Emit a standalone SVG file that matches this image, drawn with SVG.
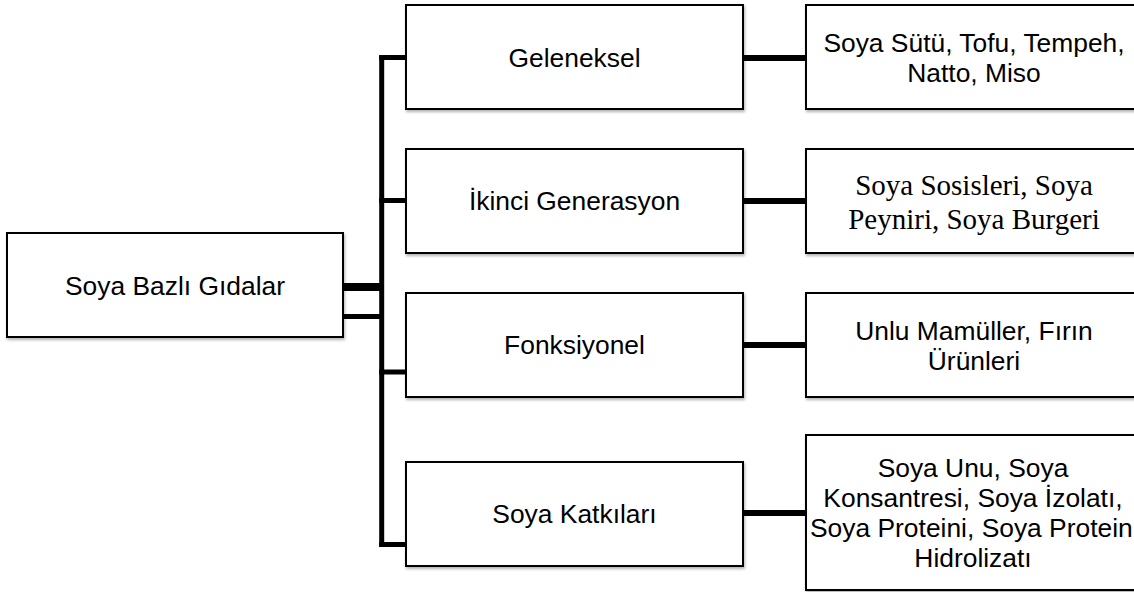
<svg xmlns="http://www.w3.org/2000/svg" width="1134" height="592" viewBox="0 0 1134 592">
  <defs>
    <filter id="shadow" x="-5%" y="-5%" width="110%" height="120%">
      <feDropShadow dx="1" dy="2" stdDeviation="1.5" flood-color="#000" flood-opacity="0.3"/>
    </filter>
  </defs>
  <style>
    .box { fill: #ffffff; stroke: #000000; stroke-width: 2; filter: url(#shadow); }
    .t { font-family: "Liberation Sans", Arial, sans-serif; font-size: 26.4px; fill: #000; text-anchor: middle; }
    .ts { font-family: "Liberation Serif", "Times New Roman", serif; font-size: 29px; fill: #000; text-anchor: middle; }
    .ln { stroke: #000; fill: none; stroke-linecap: butt; }
  </style>
  <rect width="1134" height="592" fill="#ffffff"/>

  <g id="connectors">
    <line class="ln" x1="343" y1="287" x2="384" y2="287" stroke-width="8"/>
    <line class="ln" x1="343" y1="316.5" x2="384" y2="316.5" stroke-width="5"/>
    <line class="ln" x1="381.7" y1="55" x2="381.7" y2="547" stroke-width="5"/>
    <line class="ln" x1="379.2" y1="57.5" x2="406" y2="57.5" stroke-width="5"/>
    <line class="ln" x1="379.2" y1="200.5" x2="406" y2="200.5" stroke-width="5"/>
    <line class="ln" x1="379.2" y1="372" x2="406" y2="372" stroke-width="5"/>
    <line class="ln" x1="379.2" y1="544.5" x2="406" y2="544.5" stroke-width="5"/>
    <line class="ln" x1="743" y1="58" x2="806" y2="58" stroke-width="6"/>
    <line class="ln" x1="743" y1="201" x2="806" y2="201" stroke-width="6"/>
    <line class="ln" x1="743" y1="345" x2="806" y2="345" stroke-width="6"/>
    <line class="ln" x1="743" y1="513" x2="806" y2="513" stroke-width="6"/>
  </g>

  <g id="root">
    <rect class="box" x="7" y="233" width="336" height="104"/>
    <text class="t" x="175" y="294.5">Soya Bazlı Gıdalar</text>
  </g>

  <g id="geleneksel">
    <rect class="box" x="406" y="5" width="337" height="104"/>
    <text class="t" x="574.5" y="66.5">Geleneksel</text>
  </g>
  <g id="ikinci">
    <rect class="box" x="406" y="149" width="337" height="104"/>
    <text class="t" x="574.5" y="210">İkinci Generasyon</text>
  </g>
  <g id="fonksiyonel">
    <rect class="box" x="406" y="293" width="337" height="104"/>
    <text class="t" x="574.5" y="354">Fonksiyonel</text>
  </g>
  <g id="katkilar">
    <rect class="box" x="406" y="462" width="337" height="104"/>
    <text class="t" x="574.5" y="523">Soya Katkıları</text>
  </g>

  <g id="geleneksel-ornek">
    <rect class="box" x="806" y="5" width="340" height="104"/>
    <text class="t" x="974" y="51.5">Soya Sütü, Tofu, Tempeh,</text>
    <text class="t" x="974" y="81.5">Natto, Miso</text>
  </g>
  <g id="ikinci-ornek">
    <rect class="box" x="806" y="149" width="340" height="104"/>
    <text class="ts" x="974" y="195">Soya Sosisleri, Soya</text>
    <text class="ts" x="974" y="229">Peyniri, Soya Burgeri</text>
  </g>
  <g id="fonksiyonel-ornek">
    <rect class="box" x="806" y="293" width="340" height="104"/>
    <text class="t" x="974" y="340">Unlu Mamüller, Fırın</text>
    <text class="t" x="974" y="370">Ürünleri</text>
  </g>
  <g id="katkilar-ornek">
    <rect class="box" x="806" y="435" width="340" height="155"/>
    <text class="t" x="973" y="477">Soya Unu, Soya</text>
    <text class="t" x="973" y="507">Konsantresi, Soya İzolatı,</text>
    <text class="t" x="810" y="537" style="text-anchor:start">Soya Proteini, Soya Protein</text>
    <text class="t" x="973" y="567">Hidrolizatı</text>
  </g>
</svg>
